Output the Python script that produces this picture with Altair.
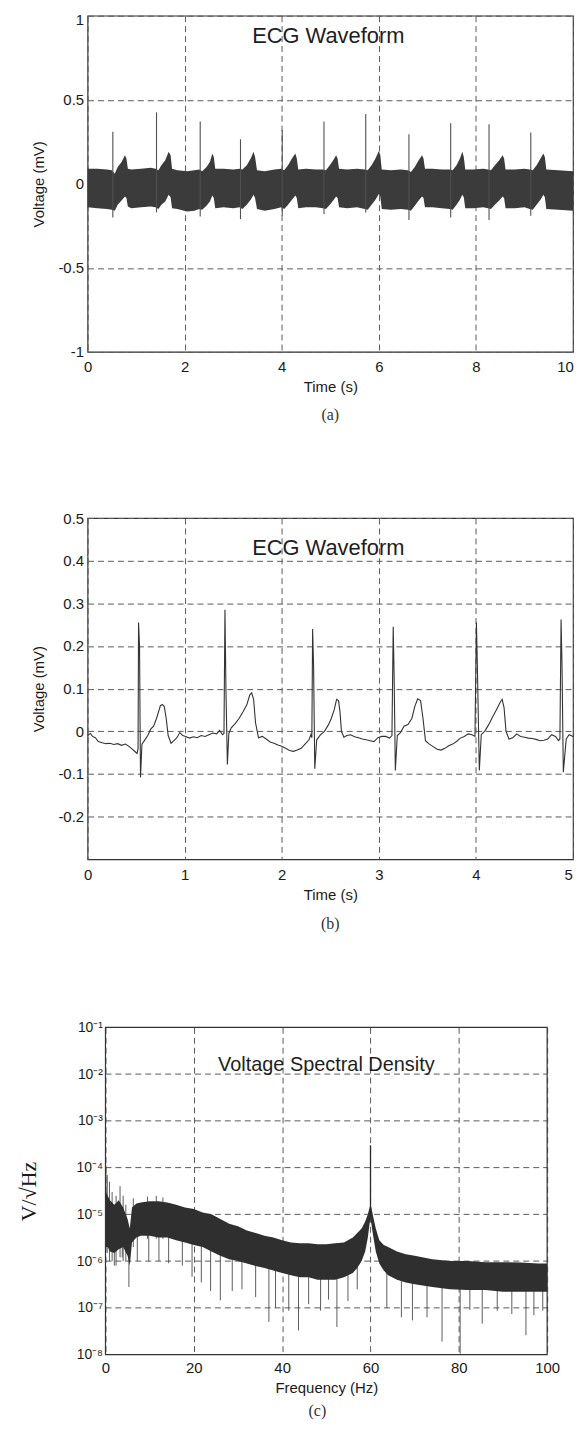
import altair as alt
import pandas as pd

FONT = "Liberation Sans"
SERIF = "Liberation Serif"

# ---------------- (a) 10 s raw ECG with mains interference ----------------
a_band_t = [0.00, 0.20, 0.40,
            0.50, 0.56, 0.62, 0.70, 0.77, 0.80, 0.83, 0.90, 1.10, 1.30,
            1.40, 1.46, 1.52, 1.60, 1.67, 1.71, 1.74, 1.85, 2.05, 2.20,
            2.30, 2.36, 2.45, 2.52, 2.57, 2.60, 2.63, 2.80, 3.00,
            3.13, 3.19, 3.28, 3.36, 3.42, 3.45, 3.49, 3.65, 3.85,
            3.99, 4.05, 4.13, 4.21, 4.28, 4.31, 4.34, 4.50, 4.70,
            4.85, 4.91, 4.99, 5.06, 5.12, 5.15, 5.18, 5.35, 5.55,
            5.71, 5.77, 5.85, 5.93, 6.00, 6.03, 6.06, 6.25, 6.45,
            6.60, 6.66, 6.74, 6.82, 6.89, 6.92, 6.95, 7.10, 7.30,
            7.46, 7.52, 7.60, 7.67, 7.72, 7.75, 7.78, 7.95, 8.15,
            8.25, 8.31, 8.39, 8.48, 8.55, 8.58, 8.61, 8.80, 9.00,
            9.11, 9.17, 9.25, 9.33, 9.39, 9.42, 9.45, 9.70, 10.00]
a_band_hi = [0.090, 0.090, 0.085,
             0.080, 0.060, 0.100, 0.130, 0.170, 0.150, 0.090, 0.085, 0.090, 0.095,
             0.090, 0.080, 0.110, 0.140, 0.190, 0.170, 0.090, 0.080, 0.075, 0.080,
             0.085, 0.075, 0.100, 0.130, 0.180, 0.160, 0.090, 0.090, 0.085,
             0.090, 0.085, 0.110, 0.150, 0.190, 0.160, 0.080, 0.075, 0.085,
             0.090, 0.080, 0.110, 0.150, 0.180, 0.150, 0.085, 0.090, 0.085,
             0.085, 0.080, 0.110, 0.140, 0.170, 0.150, 0.090, 0.085, 0.090,
             0.085, 0.080, 0.110, 0.150, 0.195, 0.170, 0.085, 0.080, 0.085,
             0.080, 0.070, 0.100, 0.140, 0.170, 0.150, 0.090, 0.090, 0.085,
             0.085, 0.080, 0.110, 0.150, 0.190, 0.160, 0.085, 0.085, 0.090,
             0.085, 0.080, 0.110, 0.140, 0.170, 0.150, 0.085, 0.085, 0.090,
             0.085, 0.080, 0.110, 0.150, 0.180, 0.160, 0.085, 0.080, 0.075]
a_band_lo = [-0.140, -0.145, -0.150,
             -0.155, -0.160, -0.125, -0.100, -0.075, -0.085, -0.135, -0.145, -0.140, -0.135,
             -0.140, -0.150, -0.125, -0.105, -0.065, -0.080, -0.145, -0.150, -0.165, -0.160,
             -0.150, -0.155, -0.130, -0.105, -0.070, -0.085, -0.145, -0.140, -0.145,
             -0.140, -0.150, -0.125, -0.095, -0.065, -0.085, -0.150, -0.160, -0.150,
             -0.140, -0.150, -0.125, -0.095, -0.070, -0.085, -0.145, -0.140, -0.140,
             -0.145, -0.150, -0.125, -0.100, -0.075, -0.085, -0.140, -0.145, -0.140,
             -0.150, -0.155, -0.125, -0.095, -0.060, -0.075, -0.150, -0.155, -0.150,
             -0.155, -0.160, -0.130, -0.100, -0.075, -0.085, -0.140, -0.140, -0.145,
             -0.150, -0.155, -0.125, -0.095, -0.065, -0.080, -0.145, -0.145, -0.140,
             -0.145, -0.150, -0.125, -0.100, -0.075, -0.085, -0.145, -0.145, -0.140,
             -0.150, -0.155, -0.125, -0.095, -0.065, -0.080, -0.150, -0.155, -0.160]
a_r_t = [0.52, 1.42, 2.32, 3.15, 4.01, 4.87, 5.73, 6.62, 7.48, 8.27, 9.13]
a_r_top = [0.31, 0.425, 0.37, 0.265, 0.32, 0.37, 0.415, 0.295, 0.36, 0.355, 0.305]
a_r_bot = [-0.20, -0.17, -0.195, -0.21, -0.19, -0.18, -0.17, -0.215, -0.20, -0.215, -0.19]

# ---------------- (b) first 5 s, filtered ----------------
b_t = [0.00, 0.03, 0.05, 0.08, 0.11, 0.15, 0.19, 0.23, 0.27, 0.31, 0.35, 0.39, 0.43, 0.46, 0.49, 0.51,
       0.52, 0.525, 0.535, 0.545, 0.56, 0.59, 0.62, 0.65, 0.68, 0.71, 0.73, 0.75, 0.77, 0.79, 0.81,
       0.83, 0.86, 0.89, 0.92, 0.95, 0.98, 1.01, 1.05, 1.09, 1.13, 1.17, 1.21, 1.25, 1.29, 1.33, 1.36,
       1.39, 1.405, 1.415, 1.425, 1.44, 1.455, 1.48, 1.52, 1.56, 1.60, 1.64, 1.67, 1.69, 1.71, 1.73,
       1.76, 1.80, 1.84, 1.88, 1.92, 1.96, 2.00, 2.04, 2.08, 2.12, 2.16, 2.20, 2.24, 2.28, 2.30, 2.31,
       2.318, 2.328, 2.34, 2.36, 2.40, 2.44, 2.48, 2.51, 2.54, 2.565, 2.585, 2.60, 2.615, 2.64, 2.67,
       2.71, 2.75, 2.79, 2.83, 2.87, 2.91, 2.95, 2.99, 3.03, 3.07, 3.11, 3.135, 3.148, 3.158, 3.17,
       3.19, 3.22, 3.26, 3.30, 3.34, 3.37, 3.40, 3.43, 3.455, 3.48, 3.52, 3.56, 3.60, 3.64, 3.68,
       3.72, 3.76, 3.80, 3.84, 3.88, 3.92, 3.96, 3.99, 4.005, 4.015, 4.035, 4.055, 4.09, 4.13, 4.17,
       4.21, 4.25, 4.27, 4.29, 4.31, 4.34, 4.38, 4.42, 4.46, 4.50, 4.54, 4.58, 4.62, 4.66, 4.70, 4.74,
       4.78, 4.82, 4.85, 4.865, 4.877, 4.887, 4.90, 4.93, 4.96, 5.00]
b_v = [-0.010, -0.005, -0.012, -0.015, -0.024, -0.027, -0.029, -0.028, -0.031, -0.029, -0.033, -0.030,
       -0.036, -0.042, -0.048, -0.052,
       -0.040, 0.255, 0.200, -0.108, -0.030, -0.020, -0.010, 0.005, 0.012, 0.030, 0.045, 0.060, 0.063,
       0.058, 0.030,
       -0.010, -0.028, -0.022, -0.015, -0.003, -0.010, -0.012, -0.016, -0.013, -0.015, -0.010, -0.012,
       -0.008, -0.004, -0.006, 0.002,
       -0.008, -0.005, 0.285, 0.100, -0.078, -0.005, 0.008, 0.018, 0.030, 0.045, 0.062, 0.085, 0.090,
       0.075, 0.020,
       -0.015, -0.012, -0.018, -0.025, -0.028, -0.032, -0.035, -0.040, -0.045, -0.047, -0.044, -0.040,
       -0.030, -0.020, -0.008, -0.015,
       0.240, 0.150, -0.088, -0.020, -0.008, 0.000, 0.015, 0.030, 0.050, 0.075, 0.072, 0.045, 0.000,
       -0.014, -0.010,
       -0.008, -0.013, -0.015, -0.018, -0.020, -0.022, -0.024, -0.015, -0.012, -0.012, -0.016, -0.010,
       0.245, 0.120, -0.092,
       -0.010, -0.004, 0.012, 0.016, 0.030, 0.058, 0.076, 0.072, 0.030, -0.022, -0.030, -0.036, -0.042,
       -0.044, -0.040,
       -0.034, -0.030, -0.024, -0.016, -0.012, -0.006, -0.008, -0.012, 0.255, 0.150, -0.092, -0.008,
       0.000, 0.015, 0.033,
       0.050, 0.068, 0.075, 0.055, 0.000, -0.018, -0.015, -0.006, -0.012, -0.014, -0.016, -0.017,
       -0.019, -0.022, -0.021, -0.018,
       -0.008, -0.012, -0.022, -0.018, 0.262, 0.150, -0.096, -0.018, -0.008, -0.012]

# ---------------- (c) voltage spectral density ----------------
c_f = [0.0, 0.5, 1.0, 2.0, 3.0, 4.0, 5.0, 5.5, 6.0, 7.0, 8.0, 10.0, 12.0, 14.0, 16.0, 18.0, 20.0,
       22.0, 24.0, 26.0, 28.0, 30.0, 32.0, 34.0, 36.0, 38.0, 40.0, 42.0, 44.0, 46.0, 48.0, 50.0,
       52.0, 54.0, 56.0, 57.0, 58.0, 58.8, 59.4, 59.8, 60.0, 60.2, 60.6, 61.2, 62.0, 63.0, 64.0,
       66.0, 68.0, 70.0, 74.0, 78.0, 82.0, 86.0, 90.0, 94.0, 98.0, 100.0]
c_hi = [3.2e-5, 2.5e-5, 2.0e-5, 1.6e-5, 2.0e-5, 1.4e-5, 8.0e-6, 5.0e-6, 1.4e-5, 1.7e-5, 1.8e-5,
        1.9e-5, 1.9e-5, 1.8e-5, 1.6e-5, 1.4e-5, 1.3e-5, 1.1e-5, 1.0e-5, 8.0e-6, 6.3e-6, 5.6e-6,
        4.5e-6, 4.0e-6, 3.5e-6, 3.2e-6, 2.8e-6, 2.5e-6, 2.4e-6, 2.4e-6, 2.3e-6, 2.3e-6, 2.4e-6,
        2.5e-6, 3.2e-6, 4.0e-6, 5.0e-6, 7.0e-6, 1.0e-5, 1.4e-5, 1.6e-5, 1.4e-5, 9.0e-6, 5.0e-6,
        2.8e-6, 2.2e-6, 2.0e-6, 1.6e-6, 1.4e-6, 1.3e-6, 1.1e-6, 1.0e-6, 1.0e-6, 9.5e-7, 9.5e-7,
        9.3e-7, 8.9e-7, 8.9e-7]
c_lo = [2.0e-6, 2.0e-6, 1.6e-6, 1.5e-6, 1.8e-6, 2.0e-6, 1.3e-6, 8.0e-7, 2.5e-6, 3.2e-6, 3.5e-6,
        3.5e-6, 3.2e-6, 3.2e-6, 2.8e-6, 2.5e-6, 2.2e-6, 2.0e-6, 1.6e-6, 1.3e-6, 1.1e-6, 1.0e-6,
        8.9e-7, 7.9e-7, 7.1e-7, 6.3e-7, 5.6e-7, 5.0e-7, 4.5e-7, 4.5e-7, 4.0e-7, 4.0e-7, 4.0e-7,
        4.5e-7, 5.6e-7, 7.1e-7, 1.0e-6, 1.6e-6, 3.2e-6, 6.3e-6, 8.0e-6, 6.3e-6, 3.5e-6, 1.6e-6,
        8.9e-7, 6.3e-7, 5.0e-7, 4.0e-7, 3.5e-7, 3.2e-7, 2.8e-7, 2.5e-7, 2.4e-7, 2.4e-7, 2.2e-7,
        2.2e-7, 2.2e-7, 2.2e-7]
c_spk_f = [0.1, 0.4, 0.9, 1.5, 2.4, 3.3, 4.0, 4.6, 5.3, 6.3, 9.5, 11.5, 13.0,
           2.0, 3.8, 7.2, 9.8, 12.1, 14.3, 17.4, 19.6, 21.7, 23.8, 26.0, 28.7, 30.9, 34.0, 37.0,
           38.5, 41.5, 43.7, 46.0, 48.7, 50.5, 52.4, 54.9, 57.0, 63.7, 67.0, 69.5, 72.8, 76.2,
           80.3, 82.5, 85.3, 88.7, 92.0, 95.2, 97.0, 99.0]
c_spk_lo = [2.0e-6, 1.5e-6, 1.0e-6, 1.0e-6, 8.0e-7, 1.2e-6, 1.0e-6, 1.0e-6, 2.8e-7, 2.0e-6, 3.0e-6,
            3.0e-6, 3.0e-6,
            8.0e-7, 1.2e-6, 1.0e-6, 1.0e-6, 1.0e-6, 9.0e-7, 8.0e-7, 4.6e-7, 3.5e-7, 2.3e-7, 1.45e-7,
            2.3e-7, 2.5e-7, 1.7e-7, 5.0e-8, 1.0e-7, 8.7e-8, 3.3e-8, 1.2e-7, 8.7e-8, 1.5e-7, 3.9e-8,
            1.4e-7, 2.5e-7, 1.0e-7, 6.3e-8, 5.4e-8, 6.3e-8, 1.9e-8, 1.05e-8, 9.0e-8, 4.6e-8, 8.7e-8,
            7.4e-8, 2.6e-8, 7.0e-8, 8.7e-8]
c_spk_hi = [1.1e-4, 7.0e-5, 5.0e-5, 3.0e-5, 2.5e-5, 4.0e-5, 2.5e-5, 1.6e-5, 5.0e-6, 2.2e-5, 2.4e-5,
            2.5e-5, 2.3e-5,
            1.0e-5, 1.0e-5, 1.0e-5, 1.0e-5, 1.0e-5, 1.0e-5, 8.0e-6, 6.0e-6, 5.0e-6, 4.0e-6, 3.0e-6,
            2.5e-6, 2.0e-6, 1.5e-6, 1.3e-6, 1.2e-6, 1.0e-6, 1.0e-6, 9.0e-7, 9.0e-7, 9.0e-7, 9.0e-7,
            1.0e-6, 1.5e-6, 8.0e-7, 6.0e-7, 5.0e-7, 5.0e-7, 4.0e-7, 4.0e-7, 4.0e-7, 4.0e-7, 4.0e-7,
            4.0e-7, 4.0e-7, 4.0e-7, 4.0e-7]
c_peak_f = [60.0]
c_peak_lo = [1.0e-5]
c_peak_hi = [3.0e-4]
c_decades = [1e-8, 1e-7, 1e-6, 1e-5, 1e-4, 1e-3, 1e-2, 1e-1]
c_grid = [1e-7, 1e-6, 1e-5, 1e-4, 1e-3, 1e-2]

MINUS = "replace(datum.label, '\u2212', '-')"
LOGLAB = ("'10' + ['\u207b\u2078','\u207b\u2077','\u207b\u2076','\u207b\u2075','\u207b\u2074',"
          "'\u207b\u00b3','\u207b\u00b2','\u207b\u00b9'][round(log(datum.value)/LN10) + 8]")
GRID = "#5a5a5a"
FRAME = "#333333"


def x_enc(field, dom, vals, title, last_shift=0, label_pad=8, title_pad=5, rng=None):
    sc = dict(domain=dom, nice=False, zero=False)
    if rng is not None:
        sc["range"] = rng
    return alt.X(field, scale=alt.Scale(**sc),
                 axis=alt.Axis(values=vals, title=title, labelFlush=False, format="d",
                               labelPadding=label_pad, titlePadding=title_pad,
                               labelOffset={"condition": {"test": "datum.value == %g" % dom[1],
                                                          "value": last_shift}, "value": 0}))


def y_lin(field, dom, vals, title, top_shift=0):
    return alt.Y(field, scale=alt.Scale(domain=dom, nice=False, zero=False),
                 axis=alt.Axis(values=vals, title=title, format="~g", labelExpr=MINUS,
                               labelPadding=4, minExtent=30, maxExtent=30, titlePadding=11,
                               labelOffset={"condition": {"test": "datum.value == %g" % dom[1],
                                                          "value": top_shift}, "value": 0}))


def caption(txt, off):
    return alt.TitleParams(txt, orient="bottom", anchor="middle", frame="group", font=SERIF,
                           fontSize=16, fontWeight="normal", color="#333", offset=off)


def inner_title(txt, x, y, size):
    return alt.Chart(pd.DataFrame({"txt": [txt]})).mark_text(
        font=FONT, fontSize=size, color="#1e1e1e", align="center", baseline="middle"
    ).encode(text="txt:N", x=alt.value(x), y=alt.value(y))


# ----- panel (a)
df_a_band = pd.DataFrame({"t": a_band_t, "lo": a_band_lo, "hi": a_band_hi})
df_a_r = pd.DataFrame({"t": a_r_t, "lo": a_r_bot, "hi": a_r_top})
xa = x_enc("t:Q", [0, 10], [0, 2, 4, 6, 8, 10], "Time (s)", last_shift=-8)
ya = y_lin("lo:Q", [-1, 1], [-1, -0.5, 0, 0.5, 1], "Voltage (mV)", top_shift=4)
pa = alt.layer(
    alt.Chart(df_a_band).mark_area(color="#3b3b3b").encode(x=xa, y=ya, y2="hi:Q"),
    alt.Chart(df_a_r).mark_rule(color="#505050", strokeWidth=1.1).encode(x=xa, y=ya, y2="hi:Q"),
    inner_title("ECG Waveform", 242, 20, 22),
).properties(width=488, height=338, title=caption("(a)", 12))

# ----- panel (b)
df_b = pd.DataFrame({"t": b_t, "v": b_v})
xb = x_enc("t:Q", [0, 5], [0, 1, 2, 3, 4, 5], "Time (s)", last_shift=-5)
yb = y_lin("v:Q", [-0.3, 0.5], [-0.2, -0.1, 0, 0.1, 0.2, 0.3, 0.4, 0.5], "Voltage (mV)")
pb = alt.layer(
    alt.Chart(df_b).mark_line(color="#333", strokeWidth=1.1).encode(x=xb, y=yb),
    inner_title("ECG Waveform", 242, 30, 22),
).properties(width=488, height=343, title=caption("(b)", 14))

# ----- panel (c): plot area starts 18 px right of the column origin
C_SHIFT = 18
C_W = 462
df_c = pd.DataFrame({"f": c_f, "lo": c_lo, "hi": c_hi})
df_c_spk = pd.DataFrame({"f": c_spk_f, "lo": c_spk_lo, "hi": c_spk_hi})
df_c_pk = pd.DataFrame({"f": c_peak_f, "lo": c_peak_lo, "hi": c_peak_hi})
df_c_grid = pd.DataFrame({"f": [0.0] * len(c_grid), "f2": [100.0] * len(c_grid), "lo": c_grid})
df_c_frame = pd.DataFrame({"f": [0.0], "f2": [100.0], "lo": [c_decades[0]], "hi": [c_decades[-1]]})
xc = x_enc("f:Q", [0, 100], [0, 20, 40, 60, 80, 100], "Frequency (Hz)", label_pad=6,
           title_pad=5, rng=[C_SHIFT, C_W])
yc = alt.Y("lo:Q", scale=alt.Scale(type="log", domain=[c_decades[0], c_decades[-1]], nice=False),
           axis=alt.Axis(values=c_decades, title="V/\u221aHz", labelExpr=LOGLAB, labelFontSize=14,
                         labelPadding=3, minExtent=28, maxExtent=28, titlePadding=37,
                         titleFont=SERIF, titleFontSize=22, grid=False, offset=-C_SHIFT))
pc = alt.layer(
    alt.Chart(df_c_grid).mark_rule(color=GRID, strokeWidth=1, strokeDash=[6, 4]).encode(
        x=xc, x2="f2:Q", y=yc),
    alt.Chart(df_c_spk).mark_rule(color="#4a4a4a", strokeWidth=0.9).encode(x=xc, y=yc, y2="hi:Q"),
    alt.Chart(df_c).mark_area(color="#2f2f2f").encode(x=xc, y=yc, y2="hi:Q"),
    alt.Chart(df_c_pk).mark_rule(color="#2a2a2a", strokeWidth=1.3).encode(x=xc, y=yc, y2="hi:Q"),
    alt.Chart(df_c_frame).mark_rect(filled=False, color=FRAME, strokeWidth=1.2).encode(
        x=xc, x2="f2:Q", y=yc, y2="hi:Q"),
    inner_title("Voltage Spectral Density", C_SHIFT + 222, 38, 20),
).properties(width=C_W, height=329, title=caption("(c)", 8),
             view=alt.ViewBackground(stroke="transparent"))

chart = alt.vconcat(pa, pb, pc, spacing=87).properties(
    padding={"left": 9, "right": 0, "top": 0, "bottom": 0}, background="white"
).configure_view(stroke=FRAME, strokeWidth=1.2).configure_axis(
    grid=True, gridDash=[6, 4], gridColor=GRID, gridWidth=1, gridOpacity=1,
    domain=False, ticks=False, labelFont=FONT, labelFontSize=15, labelColor="#1a1a1a",
    titleFont=FONT, titleFontSize=15, titleFontWeight="normal", titleColor="#1a1a1a"
)

chart.save("out.html", embed_options={"renderer": "svg", "actions": False})
